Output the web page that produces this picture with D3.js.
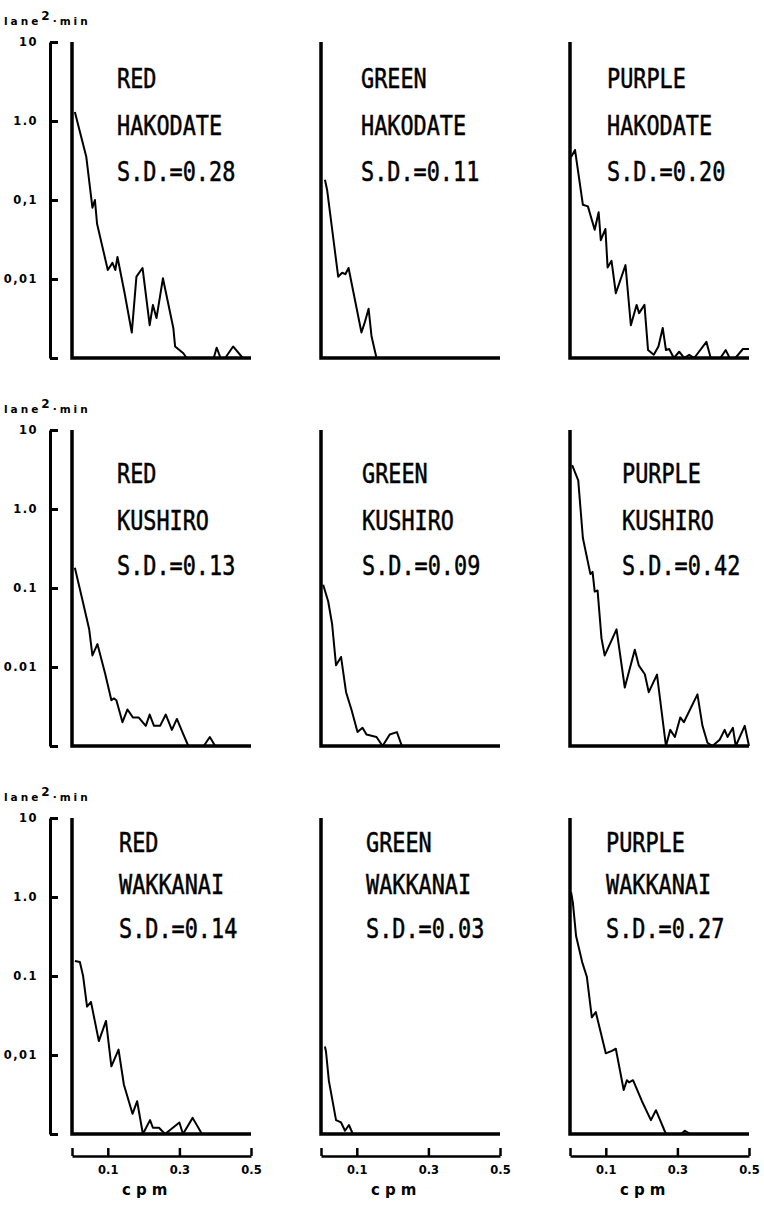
<!DOCTYPE html>
<html>
<head>
<meta charset="utf-8">
<script src="https://cdn.jsdelivr.net/npm/d3@7"></script>
<style>
  body { margin: 0; background: #fff; }
  svg { display: block; }
  .tick text { font-family: "DejaVu Sans", sans-serif; font-weight: bold; }
</style>
</head>
<body>
<div id="chart"></div>
<script>
// spectra, [cpm, lane^2*min]; anything under 0.001 sits on the baseline
var redHakodate = [[0.008,1.3],[0.04,0.35],[0.057,0.08],[0.064,0.1],[0.07,0.05],[0.1,0.013],[0.113,0.016],[0.121,0.013],[0.127,0.019],[0.147,0.0066],[0.167,0.0021],[0.18,0.0107],[0.197,0.0138],[0.217,0.0026],[0.226,0.0047],[0.236,0.0032],[0.254,0.0102],[0.283,0.0024],[0.288,0.0014],[0.311,0.00115],[0.32,0.001],[0.396,0.001],[0.404,0.00135],[0.415,0.001],[0.428,0.001],[0.45,0.0014],[0.477,0.001],[0.5,0.001]];
var greenHakodate = [[0.011,0.18],[0.017,0.135],[0.048,0.0107],[0.059,0.012],[0.068,0.0115],[0.077,0.0138],[0.113,0.0021],[0.122,0.0028],[0.133,0.0042],[0.141,0.0019],[0.155,0.001],[0.5,0.001]];
var purpleHakodate = [[0.003,0.35],[0.014,0.43],[0.036,0.087],[0.05,0.083],[0.069,0.042],[0.08,0.07],[0.086,0.031],[0.099,0.043],[0.105,0.014],[0.116,0.017],[0.128,0.0066],[0.155,0.015],[0.17,0.0026],[0.186,0.0047],[0.193,0.0037],[0.208,0.0047],[0.218,0.00126],[0.234,0.0011],[0.247,0.0014],[0.259,0.0024],[0.268,0.00126],[0.277,0.0013],[0.29,0.001],[0.305,0.0012],[0.319,0.001],[0.333,0.0011],[0.347,0.001],[0.381,0.0016],[0.393,0.001],[0.42,0.001],[0.435,0.00126],[0.446,0.001],[0.462,0.001],[0.483,0.0013],[0.5,0.0013]];

var redKushiro = [[0.008,0.18],[0.028,0.074],[0.048,0.03],[0.057,0.014],[0.071,0.0195],[0.093,0.0081],[0.11,0.0038],[0.117,0.004],[0.124,0.0038],[0.141,0.002],[0.155,0.0029],[0.17,0.0023],[0.186,0.0023],[0.206,0.0018],[0.217,0.0025],[0.229,0.0018],[0.246,0.0018],[0.262,0.0025],[0.279,0.0016],[0.293,0.0022],[0.311,0.0014],[0.325,0.001],[0.368,0.001],[0.385,0.0013],[0.4,0.001],[0.5,0.001]];
var greenKushiro = [[0.006,0.11],[0.02,0.068],[0.031,0.035],[0.042,0.0105],[0.056,0.0134],[0.07,0.0048],[0.085,0.0029],[0.102,0.0015],[0.116,0.0017],[0.127,0.0014],[0.155,0.0013],[0.172,0.001],[0.192,0.0014],[0.212,0.0015],[0.226,0.001],[0.5,0.001]];
var purpleKushiro = [[0.006,3.6],[0.023,2.3],[0.036,0.43],[0.057,0.15],[0.063,0.16],[0.069,0.09],[0.077,0.093],[0.088,0.023],[0.097,0.014],[0.13,0.03],[0.153,0.0055],[0.181,0.0165],[0.192,0.0105],[0.209,0.0081],[0.22,0.0048],[0.243,0.008],[0.268,0.001],[0.28,0.0016],[0.293,0.0013],[0.308,0.0023],[0.318,0.002],[0.356,0.0045],[0.37,0.0018],[0.384,0.0011],[0.398,0.001],[0.418,0.0012],[0.432,0.0016],[0.44,0.0013],[0.455,0.0017],[0.463,0.001],[0.488,0.0018],[0.5,0.001]];

var redWakkanai = [[0.008,0.155],[0.022,0.15],[0.031,0.1],[0.042,0.041],[0.053,0.047],[0.075,0.015],[0.095,0.027],[0.11,0.0072],[0.13,0.0117],[0.145,0.0042],[0.169,0.0018],[0.182,0.0026],[0.198,0.001],[0.218,0.0015],[0.226,0.0012],[0.243,0.0012],[0.26,0.001],[0.3,0.0014],[0.31,0.001],[0.337,0.0016],[0.363,0.001],[0.5,0.001]];
var greenWakkanai = [[0.011,0.0128],[0.014,0.011],[0.022,0.0047],[0.042,0.0015],[0.056,0.0014],[0.067,0.0011],[0.078,0.0013],[0.089,0.001],[0.5,0.001]];
var purpleWakkanai = [[0.003,1.15],[0.008,0.85],[0.017,0.32],[0.034,0.15],[0.047,0.098],[0.061,0.03],[0.072,0.035],[0.1,0.0105],[0.117,0.0113],[0.128,0.012],[0.15,0.0036],[0.159,0.0048],[0.165,0.0045],[0.176,0.0048],[0.201,0.0026],[0.226,0.0015],[0.24,0.002],[0.268,0.001],[0.31,0.001],[0.321,0.0011],[0.336,0.001],[0.5,0.001]];

var colours = ['RED', 'GREEN', 'PURPLE'];
var stations = ['HAKODATE', 'KUSHIRO', 'WAKKANAI'];
var sdValues = [[0.28, 0.11, 0.20], [0.13, 0.09, 0.42], [0.14, 0.03, 0.27]];
var spectra = [
    [redHakodate, greenHakodate, purpleHakodate]
  , [redKushiro, greenKushiro, purpleKushiro]
  , [redWakkanai, greenWakkanai, purpleWakkanai]
];

var yTickValues = [10, 1, 0.1, 0.01, 0.001];
var yTickLabels = [
    ['10', '1.0', '0,1', '0,01', '']
  , ['10', '1.0', '0.1', '0.01', '']
  , ['10', '1.0', '0.1', '0,01', '']
];
var xTickValues = [0, 0.1, 0.3, 0.5];
var xTickLabels = ['', '0.1', '0.3', '0.5'];

// layout
var W = 764, H = 1207;
var colX = [72, 321, 570], panelW = 179;
var rowTop = [42, 430, 818], panelH = 316;
var bracketX = 50;
var textDx = [[45, 40, 37], [45, 41, 52], [47, 45, 36]];
var textDy = [[46, 93, 139], [53, 100, 145], [34, 76, 120]];

var svg = d3.select('#chart').append('svg')
    .attr('width', W).attr('height', H)
    .attr('viewBox', '0 0 ' + W + ' ' + H);

var x = d3.scaleLinear().domain([0, 0.5]);
var floor = 0.001;

rowTop.forEach(function(top, r){
    var y = d3.scaleLog().domain([floor, 10]).range([top + panelH, top]);

    // unit label, one text so the superscript stays attached
    var unit = svg.append('text')
        .attr('x', 4).attr('y', top - 17)
        .attr('font-family', 'DejaVu Sans, sans-serif')
        .attr('font-weight', 'bold')
        .attr('font-size', 10.5)
        .attr('letter-spacing', 3);
    unit.append('tspan').text('lane');
    unit.append('tspan').attr('font-size', 12).attr('dy', -5).text('2');
    unit.append('tspan').attr('dy', 5).text('\u00b7min');

    // shared log bracket on the left
    svg.append('g')
        .attr('transform', 'translate(' + bracketX + ',0)')
        .call(d3.axisLeft(y).tickValues(yTickValues)
              .tickSizeInner(-8).tickSizeOuter(0).tickPadding(12)
              .tickFormat(function(d, i){ return yTickLabels[r][i]; }))
        .call(function(g){
            g.select('.domain').attr('stroke-width', 3);
            g.selectAll('.tick line').attr('stroke-width', 3);
            g.selectAll('.tick text').attr('font-size', 11.5).attr('letter-spacing', 1.5);
        });

    colX.forEach(function(x0, c){
        x.range([x0, x0 + panelW]);

        var p = svg.append('g').classed('panel', true);

        // the curve
        var line = d3.line()
            .x(function(d){ return x(d[0]); })
            .y(function(d){ return y(Math.max(d[1], floor)); });
        p.append('path')
            .datum(spectra[r][c])
            .attr('fill', 'none')
            .attr('stroke', '#000')
            .attr('stroke-width', 2)
            .attr('stroke-linejoin', 'round')
            .attr('d', line);

        // thick L frame
        p.append('path')
            .attr('fill', 'none')
            .attr('stroke', '#000')
            .attr('stroke-width', 3.5)
            .attr('d', 'M' + x(0) + ',' + y(10) + 'V' + y(floor) + 'H' + x(0.5));

        // caption
        var lines = [colours[c], stations[r], 'S.D.=' + sdValues[r][c].toFixed(2)];
        lines.forEach(function(t, k){
            p.append('text')
                .attr('transform', 'translate(' + [x0 + textDx[r][c], top + textDy[r][k]] + ') scale(0.84,1)')
                .attr('font-family', 'DejaVu Sans Mono, monospace')
                .attr('font-size', 26)
                .attr('stroke', '#000')
                .attr('stroke-width', 0.5)
                .text(t);
        });

        // cpm axis under the last row
        if (r === rowTop.length - 1) {
            var ax = svg.append('g')
                .attr('transform', 'translate(0,' + (top + panelH + 22) + ')')
                .call(d3.axisBottom(x).tickValues(xTickValues)
                      .tickSizeInner(-8).tickSizeOuter(0).tickPadding(10)
                      .tickFormat(function(d, i){ return xTickLabels[i]; }));
            ax.select('.domain').attr('stroke-width', 2.5);
            ax.selectAll('.tick line').attr('stroke-width', 2.5);
            ax.selectAll('.tick text').attr('font-size', 11.5);

            svg.append('text')
                .attr('x', x(0.21)).attr('y', H - 12)
                .attr('text-anchor', 'middle')
                .attr('font-family', 'DejaVu Sans, sans-serif')
                .attr('font-weight', 'bold')
                .attr('font-size', 15)
                .attr('letter-spacing', 5)
                .text('cpm');
        }
    });
});
</script>
</body>
</html>
